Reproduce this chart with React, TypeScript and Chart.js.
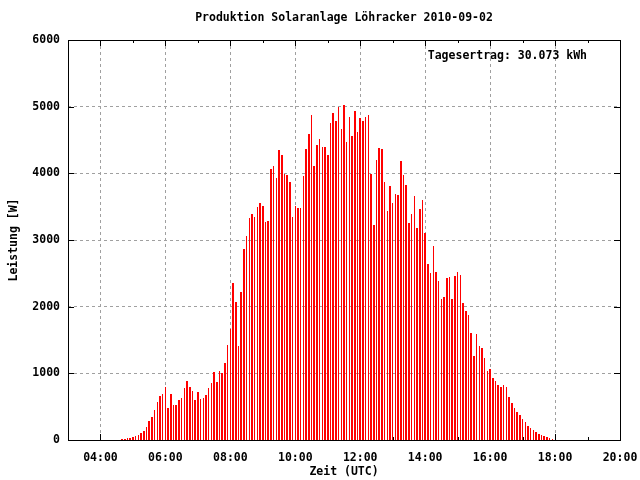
import React, { useEffect, useRef } from "react";
import { Chart, registerables } from "chart.js";

Chart.register(...registerables);

// ---- data -------------------------------------------------------------
const TITLE = "Produktion Solaranlage Löhracker 2010-09-02";
const ANNOTATION = "Tagesertrag: 30.073 kWh";
const X_TITLE = "Zeit (UTC)";
const Y_TITLE = "Leistung [W]";

// first sample time and sampling interval (5-minute logger)
const START_TIME = "04:40";
const STEP_MINUTES = 5;

// power in W, one value per 5 minutes, starting 04:40
const power: number[] = [
  15, 20, 30, 30, // 04:40-04:55
  45, 60, 70, 105, 135, 195, 285, 345, 450, 570, 660, 690, // 05:xx
  795, 480, 690, 525, 525, 600, 630, 780, 885, 795, 740, 605, // 06:xx
  720, 620, 635, 675, 780, 855, 1020, 870, 1035, 1000, 1155, 1425, // 07:xx
  1665, 2355, 2070, 1410, 2220, 2865, 3060, 3330, 3390, 3345, 3495, 3555, // 08:xx
  3510, 3270, 3285, 4065, 4110, 3930, 4350, 4275, 3990, 3975, 3870, 3345, // 09:xx
  3510, 3480, 3480, 3960, 4365, 4590, 4875, 4110, 4425, 4515, 4395, 4395, // 10:xx
  4275, 4755, 4905, 4785, 4995, 4665, 5025, 4470, 4845, 4560, 4935, 4620, // 11:xx
  4830, 4785, 4845, 4875, 3990, 3225, 4200, 4380, 4365, 3870, 3435, 3810, // 12:xx
  3555, 3690, 3675, 4185, 3975, 3825, 3255, 3390, 3660, 3180, 3465, 3600, // 13:xx
  3105, 2640, 2505, 2910, 2520, 2385, 2115, 2145, 2430, 2445, 2115, 2460, // 14:xx
  2520, 2475, 2055, 1935, 1875, 1605, 1260, 1590, 1410, 1380, 1230, 1035, // 15:xx
  1065, 930, 885, 825, 795, 825, 795, 645, 555, 480, 420, 375, // 16:xx
  315, 270, 210, 180, 150, 120, 90, 75, 60, 45, 30, 15, // 17:xx
];

const X_MIN_HOUR = 3;
const X_MAX_HOUR = 20;
const xTickHours = [4, 6, 8, 10, 12, 14, 16, 18, 20];
const xMinorHours = [3, 5, 7, 9, 11, 13, 15, 17, 19];
const yTicks = [0, 1000, 2000, 3000, 4000, 5000, 6000];

// ---- styling ----------------------------------------------------------
const FONT_FAMILY = "'DejaVu Sans Mono', 'Liberation Mono', monospace";
const FONT_SIZE = 11.5;
const BAR_COLOR = "#ff0000";
const GRID_COLOR = "#a0a0a0";
const BAR_HALF_WIDTH = 0.75;

function hourLabel(h: number): string {
  return String(h).padStart(2, "0") + ":00";
}

function startHours(): number {
  const [hh, mm] = START_TIME.split(":").map(Number);
  return hh + mm / 60;
}

// draws the impulses pixel-snapped (like gnuplot) from the bar elements
// positioned by Chart.js
const crispBarsPlugin = {
  id: "crispBars",
  beforeDatasetDraw(chart: any, args: any) {
    const meta = args.meta;
    const { ctx, chartArea } = chart;
    ctx.save();
    ctx.fillStyle = BAR_COLOR;
    for (const el of meta.data) {
      const x0 = Math.round(el.x - BAR_HALF_WIDTH);
      const x1 = Math.max(x0 + 1, Math.round(el.x + BAR_HALF_WIDTH));
      const y0 = Math.round(el.y);
      const y1 = Math.round(Math.min(el.base, chartArea.bottom));
      if (y1 > y0) ctx.fillRect(x0, y0, x1 - x0, y1 - y0);
    }
    ctx.restore();
    return false;
  },
};

const framePlugin = {
  id: "gnuplotFrame",
  beforeDatasetsDraw(chart: any) {
    const { ctx, chartArea } = chart;
    const xs = chart.scales.x;
    const ys = chart.scales.y;
    const { left, right, top, bottom } = chartArea;
    ctx.save();
    ctx.strokeStyle = "#000";
    ctx.lineWidth = 1;
    ctx.beginPath();
    const major = 6;
    const minor = 3;
    for (const h of xTickHours) {
      const px = Math.round(xs.getPixelForValue(h)) + 0.5;
      ctx.moveTo(px, bottom);
      ctx.lineTo(px, bottom - major);
      ctx.moveTo(px, top);
      ctx.lineTo(px, top + major);
    }
    for (const h of xMinorHours) {
      const px = Math.round(xs.getPixelForValue(h)) + 0.5;
      ctx.moveTo(px, bottom);
      ctx.lineTo(px, bottom - minor);
      ctx.moveTo(px, top);
      ctx.lineTo(px, top + minor);
    }
    for (const v of yTicks) {
      const py = Math.round(ys.getPixelForValue(v)) + 0.5;
      ctx.moveTo(left, py);
      ctx.lineTo(left + major, py);
      ctx.moveTo(right, py);
      ctx.lineTo(right - major, py);
    }
    ctx.stroke();
    ctx.restore();
  },
  afterDatasetsDraw(chart: any) {
    const { ctx, chartArea } = chart;
    const { left, right, top, bottom } = chartArea;
    ctx.save();
    ctx.strokeStyle = "#000";
    ctx.lineWidth = 1;
    ctx.strokeRect(
      Math.round(left) + 0.5,
      Math.round(top) + 0.5,
      Math.round(right - left),
      Math.round(bottom - top)
    );
    ctx.fillStyle = "#000";
    ctx.font = `bold ${FONT_SIZE}px ${FONT_FAMILY}`;
    ctx.textBaseline = "middle";
    ctx.textAlign = "center";
    ctx.fillText(TITLE, (left + right) / 2, 18);
    ctx.textAlign = "right";
    ctx.fillText(ANNOTATION, right - 33, top + 16);
    ctx.restore();
  },
};

export default function App() {
  const canvasRef = useRef<HTMLCanvasElement | null>(null);

  useEffect(() => {
    if (!canvasRef.current) return;
    const t0 = startHours();
    const points = power.map((w, i) => ({ x: t0 + (i * STEP_MINUTES) / 60, y: w }));
    const font = { family: FONT_FAMILY, size: FONT_SIZE, weight: "bold" as const };
    const gridColor = (edgeValues: number[]) => (c: any) =>
      c.tick && edgeValues.includes(c.tick.value) ? "rgba(0,0,0,0)" : GRID_COLOR;

    const chart = new Chart(canvasRef.current, {
      type: "bar",
      data: {
        datasets: [
          {
            data: points as any,
            backgroundColor: BAR_COLOR,
            borderWidth: 0,
            barThickness: 1.5,
          },
        ],
      },
      options: {
        animation: false,
        responsive: false,
        devicePixelRatio: 1,
        layout: { padding: { top: 40, right: 20, left: 0, bottom: 0 } },
        plugins: {
          legend: { display: false },
          title: { display: false },
          tooltip: { enabled: false },
        },
        scales: {
          x: {
            type: "linear",
            min: X_MIN_HOUR,
            max: X_MAX_HOUR,
            offset: false,
            grid: {
              color: gridColor([X_MIN_HOUR, X_MAX_HOUR]),
              lineWidth: 1,
              drawTicks: false,
              offset: false,
            },
            border: { display: false, dash: [3, 3] },
            ticks: {
              padding: 11,
              color: "#000",
              font,
              autoSkip: false,
              maxRotation: 0,
              callback: (v: any) => hourLabel(Number(v)),
            },
            afterBuildTicks: (s: any) => {
              s.ticks = xTickHours.map((v) => ({ value: v }));
            },
            afterFit: (s: any) => {
              s.height = 40;
              s.paddingLeft = 0;
              s.paddingRight = 0;
            },
            title: {
              display: true,
              text: X_TITLE,
              color: "#000",
              font,
              padding: { top: 0, bottom: 1 },
            },
          },
          y: {
            type: "linear",
            min: 0,
            max: 6000,
            grid: {
              color: gridColor([0, 6000]),
              lineWidth: 1,
              drawTicks: false,
            },
            border: { display: false, dash: [3, 3] },
            ticks: {
              padding: 8,
              color: "#000",
              font,
              stepSize: 1000,
              callback: (v: any) => String(v),
            },
            afterBuildTicks: (s: any) => {
              s.ticks = yTicks.map((v) => ({ value: v }));
            },
            afterFit: (s: any) => {
              s.width = 68;
              s.paddingTop = 0;
              s.paddingBottom = 0;
            },
            title: {
              display: true,
              text: Y_TITLE,
              color: "#000",
              font,
              padding: { top: 7, bottom: 0 },
            },
          },
        },
      },
      plugins: [crispBarsPlugin, framePlugin],
    });
    return () => chart.destroy();
  }, []);

  return (
    <div style={{ position: "absolute", left: 0, top: 0, width: 640, height: 480, background: "#fff" }}>
      <canvas ref={canvasRef} width={640} height={480} style={{ width: 640, height: 480, display: "block" }} />
    </div>
  );
}
